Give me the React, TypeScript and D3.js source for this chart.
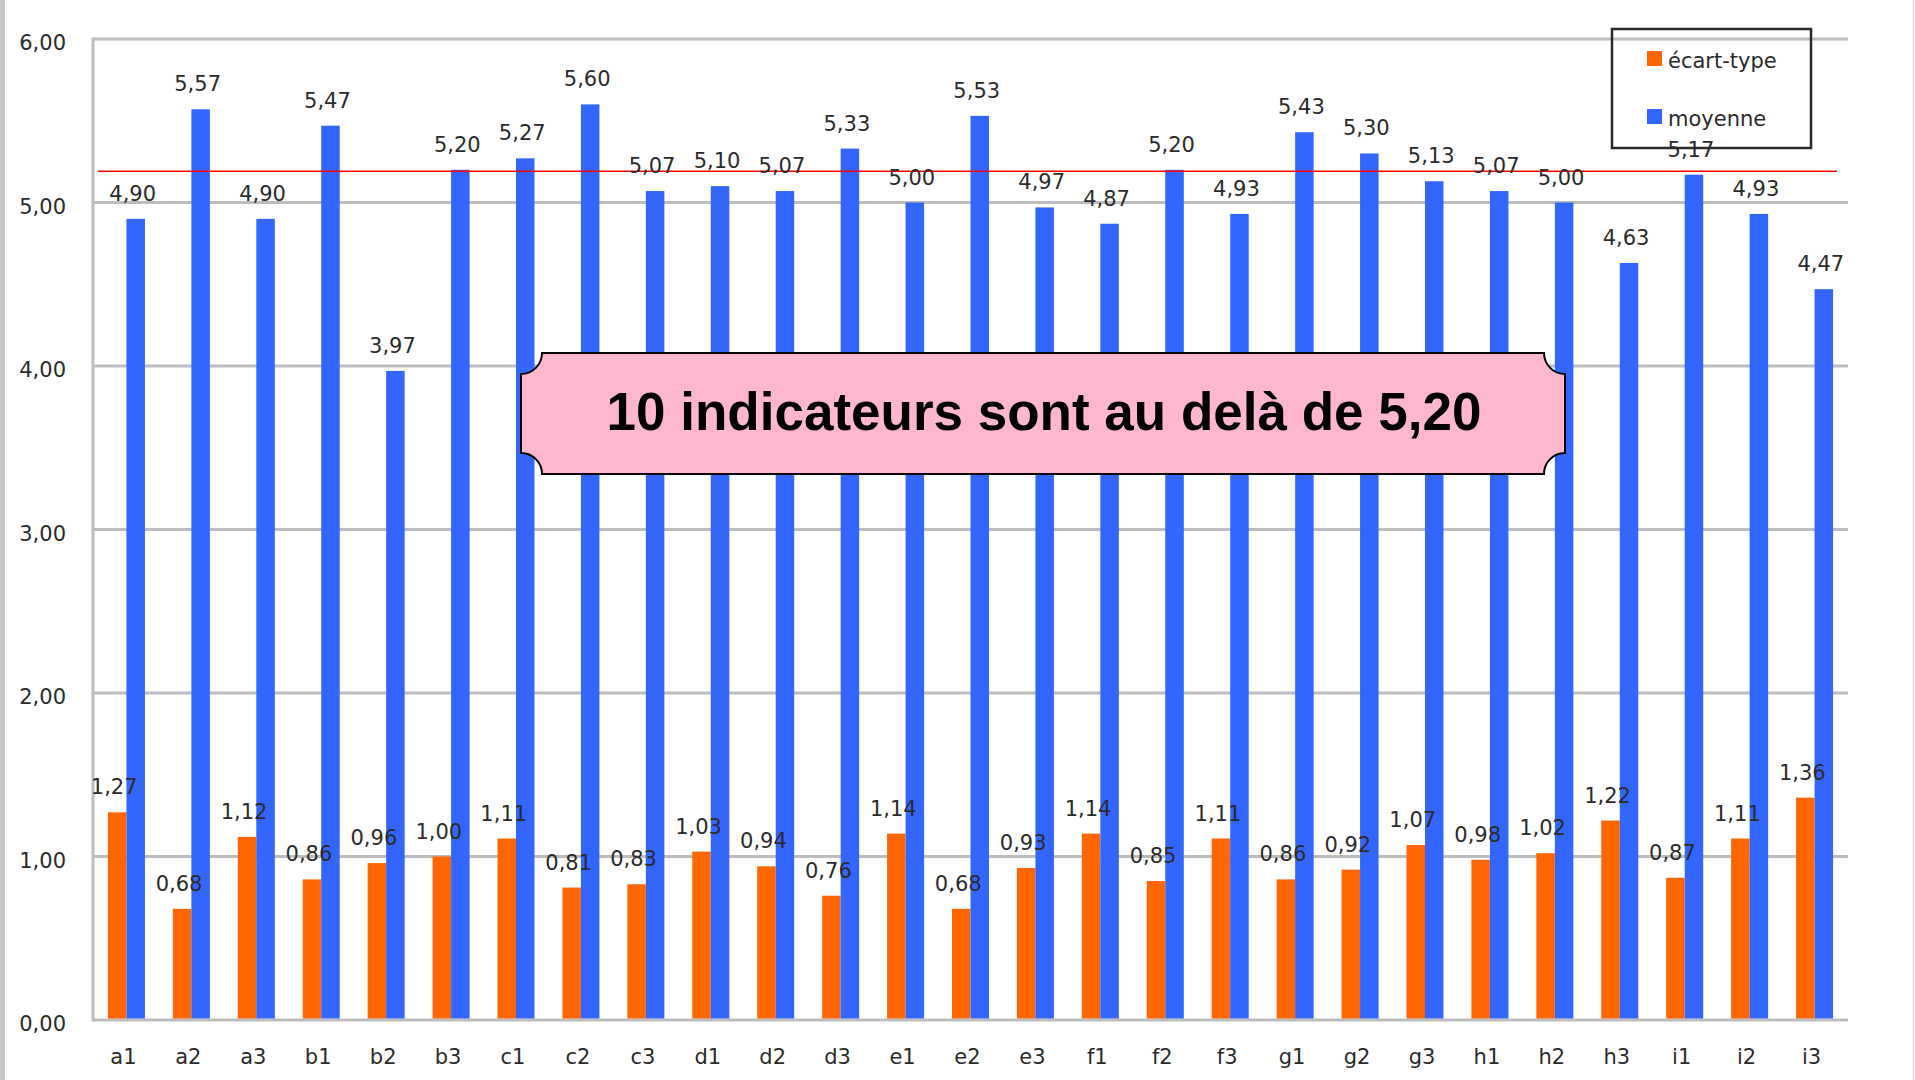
import React, { useEffect, useRef } from 'react';
import * as d3 from 'd3';

const categories = [
  'a1', 'a2', 'a3', 'b1', 'b2', 'b3', 'c1', 'c2', 'c3',
  'd1', 'd2', 'd3', 'e1', 'e2', 'e3', 'f1', 'f2', 'f3',
  'g1', 'g2', 'g3', 'h1', 'h2', 'h3', 'i1', 'i2', 'i3',
];
const ecartType = [
  1.27, 0.68, 1.12, 0.86, 0.96, 1.0, 1.11, 0.81, 0.83,
  1.03, 0.94, 0.76, 1.14, 0.68, 0.93, 1.14, 0.85, 1.11,
  0.86, 0.92, 1.07, 0.98, 1.02, 1.22, 0.87, 1.11, 1.36,
];
const moyenne = [
  4.9, 5.57, 4.9, 5.47, 3.97, 5.2, 5.27, 5.6, 5.07,
  5.1, 5.07, 5.33, 5.0, 5.53, 4.97, 4.87, 5.2, 4.93,
  5.43, 5.3, 5.13, 5.07, 5.0, 4.63, 5.17, 4.93, 4.47,
];
const seriesNames = ['écart-type', 'moyenne'];
const seriesColors = ['#ff6600', '#3366ff'];
const yTicks = [0, 1, 2, 3, 4, 5, 6];
const threshold = 5.2;
const calloutText = '10 indicateurs sont au delà de 5,20';

const W = 1915;
const H = 1080;
const FONT = '"DejaVu Sans", sans-serif';

const fr = d3.formatLocale({
  decimal: ',',
  thousands: ' ',
  grouping: [3],
  currency: ['', ' €'],
});
const fmt = fr.format('.2f');

export default function App() {
  const ref = useRef<SVGSVGElement>(null);

  useEffect(() => {
    const svg = d3.select(ref.current);
    svg.selectAll('*').remove();

    const plot = { left: 93, right: 1848, top: 39, bottom: 1020 };

    const x = d3
      .scaleBand()
      .domain(categories)
      .range([plot.left, plot.right])
      .paddingInner(0.43)
      .paddingOuter(0.23);
    const xs = d3.scaleBand().domain(seriesNames).range([0, x.bandwidth()]);
    const y = d3.scaleLinear().domain([0, 6]).range([plot.bottom, plot.top]);

    // frame edges
    svg.append('rect').attr('x', 0).attr('y', 0).attr('width', 5).attr('height', H).attr('fill', '#c6c6c6');
    svg.append('line')
      .attr('x1', 1913.5).attr('x2', 1913.5).attr('y1', 0).attr('y2', H)
      .attr('stroke', '#dcdcdc').attr('stroke-width', 1.5);

    // grid
    svg.append('g')
      .selectAll('line')
      .data(yTicks)
      .join('line')
      .attr('x1', plot.left)
      .attr('x2', plot.right)
      .attr('y1', d => y(d))
      .attr('y2', d => y(d))
      .attr('stroke', '#bdbdbd')
      .attr('stroke-width', 3);
    svg.append('line')
      .attr('x1', plot.left).attr('x2', plot.left)
      .attr('y1', plot.top - 1.5).attr('y2', plot.bottom + 1.5)
      .attr('stroke', '#bdbdbd').attr('stroke-width', 3);

    // y labels
    svg.append('g')
      .selectAll('text')
      .data(yTicks)
      .join('text')
      .attr('x', 66)
      .attr('y', d => y(d) + 11)
      .attr('text-anchor', 'end')
      .attr('font-family', FONT)
      .attr('font-size', 21)
      .attr('fill', '#2b2b2b')
      .text(d => fmt(d));

    // x labels
    svg.append('g')
      .selectAll('text')
      .data(categories)
      .join('text')
      .attr('x', d => (x(d) as number) + x.bandwidth() / 2 - 3)
      .attr('y', 1064)
      .attr('text-anchor', 'middle')
      .attr('font-family', FONT)
      .attr('font-size', 21)
      .attr('fill', '#2b2b2b')
      .text(d => d);

    const series = [ecartType, moyenne];

    // bars
    series.forEach((vals, si) => {
      svg.append('g')
        .selectAll('rect')
        .data(vals)
        .join('rect')
        .attr('x', (d, i) => (x(categories[i]) as number) + (xs(seriesNames[si]) as number))
        .attr('width', xs.bandwidth())
        .attr('y', d => y(d))
        .attr('height', d => y(0) - y(d) - 1.5)
        .attr('fill', seriesColors[si]);
    });

    // threshold line
    svg.append('line')
      .attr('x1', plot.left + 5)
      .attr('x2', plot.right - 11)
      .attr('y1', y(threshold) + 1.5)
      .attr('y2', y(threshold) + 1.5)
      .attr('stroke', '#ff0000')
      .attr('stroke-width', 1.5);

    // value labels
    series.forEach((vals, si) => {
      svg.append('g')
        .selectAll('text')
        .data(vals)
        .join('text')
        .attr('x', (d, i) =>
          (x(categories[i]) as number) + (xs(seriesNames[si]) as number) + xs.bandwidth() / 2 - 3)
        .attr('y', d => y(d) - 18)
        .attr('text-anchor', 'middle')
        .attr('font-family', FONT)
        .attr('font-size', 21)
        .attr('fill', '#2b2b2b')
        .text(d => fmt(d));
    });

    // legend
    const lg = svg.append('g');
    lg.append('rect')
      .attr('x', 1612).attr('y', 29).attr('width', 199).attr('height', 119)
      .attr('fill', 'none').attr('stroke', '#2a2a2a').attr('stroke-width', 2.5);
    seriesNames.forEach((name, i) => {
      const ly = 51 + i * 58;
      lg.append('rect')
        .attr('x', 1647).attr('y', ly).attr('width', 15).attr('height', 15)
        .attr('fill', seriesColors[i]);
      lg.append('text')
        .attr('x', 1668).attr('y', ly + 17)
        .attr('font-family', FONT).attr('font-size', 21).attr('fill', '#2b2b2b')
        .text(name);
    });

    // callout
    const bx0 = 521, bx1 = 1565, by0 = 353, by1 = 474, r = 21;
    const p = d3.path();
    p.moveTo(bx0 + r, by0);
    p.lineTo(bx1 - r, by0);
    p.arc(bx1, by0, r, Math.PI, Math.PI / 2, true);
    p.lineTo(bx1, by1 - r);
    p.arc(bx1, by1, r, -Math.PI / 2, -Math.PI, true);
    p.lineTo(bx0 + r, by1);
    p.arc(bx0, by1, r, 0, -Math.PI / 2, true);
    p.lineTo(bx0, by0 + r);
    p.arc(bx0, by0, r, Math.PI / 2, 0, true);
    p.closePath();
    svg.append('path')
      .attr('d', p.toString())
      .attr('fill', '#ffb7cf')
      .attr('stroke', '#000')
      .attr('stroke-width', 2);
    svg.append('text')
      .attr('x', (bx0 + bx1) / 2 + 1)
      .attr('y', 430)
      .attr('text-anchor', 'middle')
      .attr('font-family', '"Liberation Sans", Arial, sans-serif')
      .attr('font-weight', 'bold')
      .attr('font-size', 53)
      .attr('fill', '#000')
      .text(calloutText);
  }, []);

  return (
    <svg
      ref={ref}
      width={W}
      height={H}
      style={{ position: 'absolute', left: 0, top: 0, background: '#fff' }}
    />
  );
}
